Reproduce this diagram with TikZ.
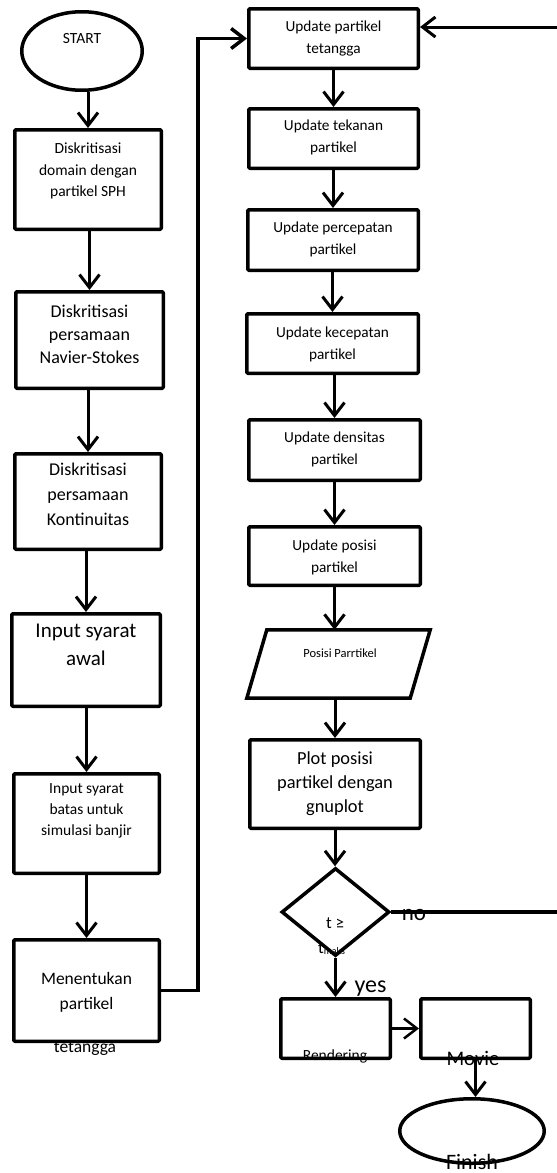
\documentclass[tikz,border=0pt]{standalone}
\usepackage{fontspec}
\setmainfont{Carlito}
\usetikzlibrary{arrows.meta,shapes.geometric}
\newcommand\myfs[2]{\fontsize{#1}{#2}\selectfont}
\tikzset{
  boxline/.style={draw, line width=3.5pt, line join=round},
  box/.style={boxline, rectangle, inner sep=0pt, rounded corners=1pt},
  txt/.style={inner sep=0pt, align=center, text=black},
  arr/.style={line width=3pt, -{Straight Barb[length=13pt,width=20pt]}},
  link/.style={line width=3.5pt},
}
\begin{document}
\begin{tikzpicture}[x=1pt,y=-1pt]
\useasboundingbox (0,0) rectangle (557,1173);
% ---- left column shapes
\node[boxline, ellipse, inner sep=0pt, minimum width=120.5pt, minimum height=78.5pt] (start) at (82,51) {};
\node[box, minimum width=146.5pt, minimum height=99.5pt] (b1) at (88,179.5) {};
\node[box, minimum width=147.5pt, minimum height=96.5pt] (b2) at (89.5,340) {};
\node[box, minimum width=146.5pt, minimum height=95.5pt] (b3) at (88,501.5) {};
\node[box, minimum width=148.5pt, minimum height=92.5pt] (b4) at (86,660) {};
\node[box, minimum width=145.5pt, minimum height=99.5pt] (b5) at (86.5,823.5) {};
\node[box, minimum width=145.5pt, minimum height=101.5pt] (b6) at (86.5,990.5) {};
% ---- right column shapes
\node[box, minimum width=169.5pt, minimum height=59.5pt] (A) at (333.5,38.5) {};
\node[box, minimum width=169.5pt, minimum height=59.5pt] (B) at (333.5,138.5) {};
\node[box, minimum width=170.5pt, minimum height=60.5pt] (C) at (333,240) {};
\node[box, minimum width=171.5pt, minimum height=59.5pt] (D) at (332.5,343.5) {};
\node[box, minimum width=171.5pt, minimum height=60.5pt] (E) at (334.5,450) {};
\node[box, minimum width=171.5pt, minimum height=58.5pt] (F) at (334.5,556) {};
\node[inner sep=0pt, minimum width=163pt, minimum height=68pt] (P) at (338.5,664) {};
\draw[boxline, line join=miter] ([xshift=10pt]P.north west) -- ([xshift=10pt]P.north east)
  -- ([xshift=-10pt]P.south east) -- ([xshift=-10pt]P.south west) -- cycle;
\node[box, minimum width=170.5pt, minimum height=88.5pt] (G) at (335,784) {};
\node[boxline, diamond, line join=miter, inner sep=0pt, minimum width=108pt, minimum height=88pt] (dec) at (335.5,912) {};
\node[box, minimum width=109.5pt, minimum height=59.5pt] (R) at (335.5,1028.5) {};
\node[box, minimum width=109.5pt, minimum height=59.5pt] (M) at (475.5,1028.5) {};
\node[boxline, ellipse, inner sep=0pt, minimum width=144.5pt, minimum height=64.5pt] (fin) at (472,1131) {};
% ---- texts
\node[txt, anchor=base, font=\myfs{15.5}{19}] (startT) at (82,43.5) {START};
\node[txt, font=\myfs{15.5}{21.5}] (b1t) at (88,171) {Diskritisasi\\domain dengan\\partikel SPH};
\node[txt, font=\myfs{18}{23}] (b2t) at (89.5,334) {Diskritisasi\\persamaan\\Navier-Stokes};
\node[txt, font=\myfs{18}{25}] (b3t) at (88,494) {Diskritisasi\\persamaan\\Kontinuitas};
\node[txt, font=\myfs{21}{28}] (b4t) at (86,645) {Input syarat\\awal};
\node[txt, font=\myfs{15.5}{21}] (b5t) at (86.5,811) {Input syarat\\batas untuk\\simulasi banjir};
\node[txt, font=\myfs{17.5}{25}] (b6t) at (86.5,992.5) {Menentukan\\partikel};
\node[txt, font=\myfs{17.5}{25}] (b6x) at (85,1048) {tetangga};
\node[txt, font=\myfs{15.3}{22}] (At) at (333.5,39) {Update partikel\\tetangga};
\node[txt, font=\myfs{15.3}{22}] (Bt) at (333.5,137.5) {Update tekanan\\partikel};
\node[txt, font=\myfs{15.3}{22}] (Ct) at (333,239) {Update percepatan\\partikel};
\node[txt, font=\myfs{15.3}{22}] (Dt) at (332.5,344) {Update kecepatan\\partikel};
\node[txt, font=\myfs{15.3}{22}] (Et) at (334.5,449) {Update densitas\\partikel};
\node[txt, font=\myfs{15.3}{22}] (Ft) at (334.5,557.5) {Update posisi\\partikel};
\node[txt, font=\myfs{12.5}{15}] (Pt) at (340,653.6) {Posisi Parrtikel};
\node[txt, font=\myfs{18.4}{24}] (Gt) at (335,784) {Plot posisi\\partikel dengan\\gnuplot};
\node[txt, anchor=base, font=\myfs{17}{20}] (dect1) at (335,928) {t ≥};
\node[txt, anchor=base west, font=\myfs{17}{20}] (dect2) at (318,953) {t\raisebox{-1.5pt}{\myfs{10}{12}maks}};
\node[txt, anchor=base, font=\myfs{23}{26}] (noT) at (414,920) {no};
\node[txt, anchor=base, font=\myfs{24}{28}] (yesT) at (370.5,992) {yes};
\node[txt, anchor=base, font=\myfs{15.5}{19}] (Rt) at (335,1060) {Rendering};
\node[txt, anchor=base, font=\myfs{20.7}{24}] (Mt) at (473,1065) {Movie};
\node[txt, anchor=base, font=\myfs{22}{26}] (finT) at (472,1169.5) {Finish};
% ---- connectors left column
\draw[arr] (start.south -| b1.north) -- (b1.north);
\draw[arr] (b2.north |- b1.south) -- (b2.north);
\draw[arr] (b3.north |- b2.south) -- (b3.north);
\draw[arr] (b4.north |- b3.south) -- (b4.north);
\draw[arr] (b5.north |- b4.south) -- (b5.north);
\draw[arr] (b6.north |- b5.south) -- (b6.north);
\coordinate (loopL) at (198,38.5);
\draw[arr, line width=3.5pt] (b6.east) -| (loopL) -- (A.west);
% ---- connectors right column
\coordinate (loopR) at (557,27);
\draw[arr] (loopR) -- (loopR -| A.east);
\draw[arr] (B.north |- A.south) -- (B.north);
\draw[arr] (C.north |- B.south) -- (C.north);
\draw[arr] (D.north |- C.south) -- (D.north);
\draw[arr] (E.north |- D.south) -- (E.north);
\draw[arr] (F.north |- E.south) -- (F.north);
\draw[arr] (F.south) -- (F.south |- P.north);
\draw[arr] (G.north |- P.south) -- (G.north);
\draw[arr] (G.south) -- (G.south |- dec.north);
\coordinate (noEnd) at (557,912);
\draw[link] (dec.east) -- (noEnd);
\draw[arr] (dec.south) -- (R.north);
\draw[arr, line width=2.5pt] (R.east) -- (M.west);
\draw[arr] (M.south) -- (M.south |- fin.north);
\end{tikzpicture}
\end{document}
